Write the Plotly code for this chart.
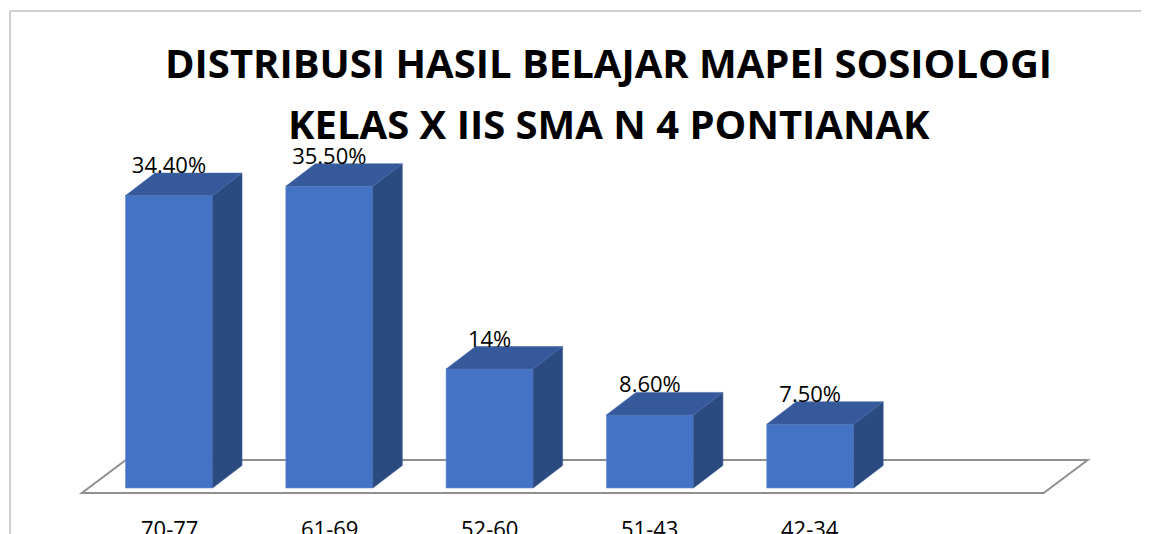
import plotly.graph_objects as go

# ---- data ----
categories = ["70-77", "61-69", "52-60", "51-43", "42-34"]
values = [34.4, 35.5, 14.0, 8.6, 7.5]
value_labels = ["34.40%", "35.50%", "14%", "8.60%", "7.50%"]
title_lines = ["DISTRIBUSI HASIL BELAJAR MAPEl SOSIOLOGI",
               "KELAS X IIS SMA N 4 PONTIANAK"]

# ---- geometry / styles ----
W, H = 1149, 534
OFF = 8                          # page body margin compensation
X0PX, XSTEP = 169.0 - OFF, 160.3      # pixel of first category, px per category
Y0PX, YSCALE = 488.0 - OFF, 8.5       # pixel of 0 %, px per %
xr = [(0 - X0PX) / XSTEP, (W - X0PX) / XSTEP]
yr = [(Y0PX - H) / YSCALE, Y0PX / YSCALE]

BW = 87 / XSTEP                 # bar front width
DX, DY = 29.5 / XSTEP, 22.5 / YSCALE   # bar depth
FDX, FDY = 44 / XSTEP, 33 / YSCALE     # floor depth
N_SLOTS = 6
FRONT_Y = -5 / YSCALE
FRONT_X0 = -0.5 - 7 / XSTEP

C_FRONT = "#4472C4"
C_TOP = "#35599A"
C_SIDE = "#2B4A80"

fig = go.Figure()

sx, sy = [], []
tx, ty = [], []
for i, v in enumerate(values):
    r = i + BW / 2
    l = i - BW / 2
    sx += [r, r + DX, r + DX, r, r, None]
    sy += [0, DY, v + DY, v, 0, None]
    tx += [l, r, r + DX, l + DX, l, None]
    ty += [v, v, v + DY, v + DY, v, None]

fig.add_trace(go.Bar(x=list(range(len(categories))), y=values, width=BW,
                     marker=dict(color=C_FRONT, line=dict(width=0.6, color="#6a8fd4")),
                     hoverinfo="skip", showlegend=False))
fig.add_trace(go.Scatter(x=sx, y=sy, mode="lines", fill="toself", fillcolor=C_SIDE,
                         line=dict(width=0.6, color="#3b5c96"), hoverinfo="skip", showlegend=False))
fig.add_trace(go.Scatter(x=tx, y=ty, mode="lines", fill="toself", fillcolor=C_TOP,
                         line=dict(width=0.6, color="#4a6cab"), hoverinfo="skip", showlegend=False))

# data labels
fig.add_trace(go.Scatter(x=list(range(len(categories))), y=[v + 28 / YSCALE for v in values],
                         mode="text", text=value_labels,
                         textfont=dict(family="Open Sans", size=22, color="#000000"),
                         textposition="middle center", hoverinfo="skip", showlegend=False))

# floor
fx0 = FRONT_X0
fx1 = FRONT_X0 + N_SLOTS
floor_path = (f"M {fx0},{FRONT_Y} L {fx1},{FRONT_Y} L {fx1 + FDX},{FRONT_Y + FDY} "
              f"L {fx0 + FDX},{FRONT_Y + FDY} Z")
shapes = [
    dict(type="path", path=floor_path, xref="x", yref="y", layer="below",
         line=dict(color="#8f8f8f", width=2), fillcolor="white"),
    dict(type="rect", xref="paper", yref="paper", x0=(10 - OFF) / W, x1=1.2, y0=-0.2,
         y1=1 - (11 - OFF) / H,
         line=dict(color="#a0a0a0", width=1), fillcolor="rgba(0,0,0,0)", layer="below"),
]

annotations = []
for i, c in enumerate(categories):
    annotations.append(dict(x=i, y=(Y0PX - (528 - OFF)) / YSCALE, xref="x", yref="y", text=c,
                            showarrow=False, xanchor="center", yanchor="middle",
                            font=dict(family="Open Sans", size=22, color="#000000")))
for line, ypx in zip(title_lines, [62.5, 124]):
    annotations.append(dict(x=(608.5 - OFF) / W, y=1 - (ypx - OFF) / H, xref="paper", yref="paper",
                            text=f"<b>{line}</b>",
                            showarrow=False, xanchor="center", yanchor="middle",
                            font=dict(family="Open Sans", size=40, color="#000000")))

fig.update_layout(
    width=W, height=H, margin=dict(l=0, r=0, t=0, b=0),
    paper_bgcolor="white", plot_bgcolor="white",
    xaxis=dict(range=xr, visible=False, fixedrange=True),
    yaxis=dict(range=yr, visible=False, fixedrange=True),
    shapes=shapes, annotations=annotations, showlegend=False,
)

fig.write_html("out.html")
